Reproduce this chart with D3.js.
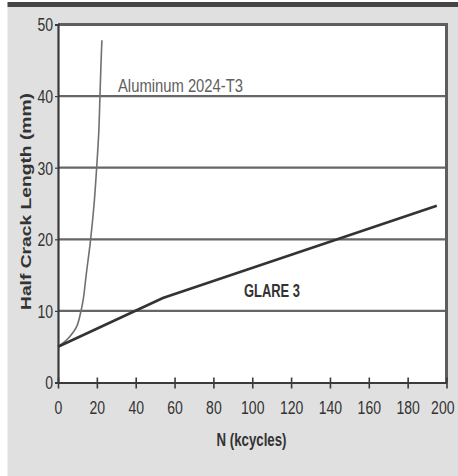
<!DOCTYPE html>
<html><head><meta charset="utf-8">
<script src="https://cdn.jsdelivr.net/npm/d3@7/dist/d3.min.js"></script>
<style>
html,body{margin:0;padding:0;background:#fff;}
svg{display:block;}
</style></head>
<body>
<script>
// Data
const xTicks = [0,20,40,60,80,100,120,140,160,180,200];
const yTicks = [0,10,20,30,40,50];
const aluminumN = [0, 3, 6, 9.6, 11.6, 13, 14.5, 16.8, 18.6, 19.9, 21, 21.6, 22.2, 22.6];
const aluminumLen = [5, 5.6, 6.4, 7.8, 9.7, 11.6, 15, 20, 25, 30, 35, 40, 45, 47.8];
const glareN = [0, 54, 195];
const glareLen = [5, 11.8, 24.7];
const seriesLabels = ["Aluminum 2024-T3", "GLARE 3"];
const xTitle = "N (kcycles)";
const yTitle = "Half Crack Length (mm)";

const W = 458, H = 476;
const font = "'Liberation Sans',Arial,Helvetica,sans-serif";
const svg = d3.select("body").append("svg").attr("width", W).attr("height", H);

// background panel
svg.append("rect").attr("x", 7.5).attr("y", 7).attr("width", W - 7.5).attr("height", H - 7).attr("fill", "#e0e0e0");
svg.append("rect").attr("x", 7.5).attr("y", 2).attr("width", W - 7.5).attr("height", 5).attr("fill", "#454545");

const x = d3.scaleLinear().domain([0, 200]).range([58, 446.5]);
const y = d3.scaleLinear().domain([0, 50]).range([382.5, 24.5]);

// plot area
svg.append("rect").attr("x", x(0)).attr("y", y(50)).attr("width", x(200) - x(0)).attr("height", y(0) - y(50)).attr("fill", "#fff");

// gridlines
svg.append("g").selectAll("line").data(yTicks.filter(d => d > 0 && d < 50)).join("line")
  .attr("x1", x(0)).attr("x2", x(200)).attr("y1", d => y(d)).attr("y2", d => y(d))
  .attr("stroke", "#666").attr("stroke-width", 2.2);

// top & right border
svg.append("path").attr("d", `M${x(0)},${y(50)}H${x(200)}V${y(0)}`)
  .attr("fill", "none").attr("stroke", "#5e5e5e").attr("stroke-width", 3);

// axes
const xAxis = svg.append("g").attr("transform", `translate(0,${y(0)})`)
  .call(d3.axisBottom(x).tickValues(xTicks).tickSize(0).tickPadding(19));
xAxis.select(".domain").attr("stroke", "#3a3a3a").attr("stroke-width", 2.2);
xAxis.selectAll(".tick").append("line").attr("y1", -5).attr("y2", 6).attr("stroke", "#3a3a3a").attr("stroke-width", 1.6);
xAxis.selectAll("text").attr("font-family", font).attr("font-size", 18).attr("fill", "#333")
  .attr("textLength", d => String(d).length * 7.8).attr("lengthAdjust", "spacingAndGlyphs")
  .attr("text-anchor", d => d === 200 ? "end" : "middle")
  .attr("x", d => d === 200 ? (454 - x(200)) : 0);

const yAxis = svg.append("g").attr("transform", `translate(${x(0)},0)`)
  .call(d3.axisLeft(y).tickValues(yTicks).tickSize(3).tickPadding(2));
yAxis.select(".domain").attr("stroke", "#3a3a3a").attr("stroke-width", 2.2);
yAxis.selectAll(".tick line").attr("stroke", "#3a3a3a").attr("stroke-width", 1.2);
yAxis.selectAll("text").attr("font-family", font).attr("font-size", 18).attr("fill", "#333").attr("dy", "0.35em")
  .attr("textLength", d => String(d).length * 7.8).attr("lengthAdjust", "spacingAndGlyphs");

// lines
svg.append("path").datum(aluminumN.map((n, i) => [n, aluminumLen[i]]))
  .attr("d", d3.line().x(d => x(d[0])).y(d => y(d[1])).curve(d3.curveCatmullRom.alpha(0.5)))
  .attr("fill", "none").attr("stroke", "#707070").attr("stroke-width", 1.6);
svg.append("path").datum(glareN.map((n, i) => [n, glareLen[i]]))
  .attr("d", d3.line().x(d => x(d[0])).y(d => y(d[1])))
  .attr("fill", "none").attr("stroke", "#333").attr("stroke-width", 2.6);

// series labels
svg.append("text").attr("x", 118).attr("y", 92).text(seriesLabels[0])
  .attr("font-family", font).attr("font-size", 17.5).attr("fill", "#606060")
  .attr("textLength", 125).attr("lengthAdjust", "spacingAndGlyphs");
svg.append("text").attr("x", 244).attr("y", 297).text(seriesLabels[1])
  .attr("font-family", font).attr("font-weight", "bold").attr("font-size", 17.5).attr("fill", "#333")
  .attr("textLength", 56).attr("lengthAdjust", "spacingAndGlyphs");

// axis titles
svg.append("text").attr("x", 251.5).attr("y", 446).attr("text-anchor", "middle").text(xTitle)
  .attr("font-family", font).attr("font-weight", "bold").attr("font-size", 17.5).attr("fill", "#333")
  .attr("textLength", 70).attr("lengthAdjust", "spacingAndGlyphs");
svg.append("text").attr("transform", "translate(31,201.5) rotate(-90)").attr("text-anchor", "middle").text(yTitle)
  .attr("font-family", font).attr("font-weight", "bold").attr("font-size", 15).attr("fill", "#333")
  .attr("textLength", 217).attr("lengthAdjust", "spacingAndGlyphs");
</script>
</body></html>
